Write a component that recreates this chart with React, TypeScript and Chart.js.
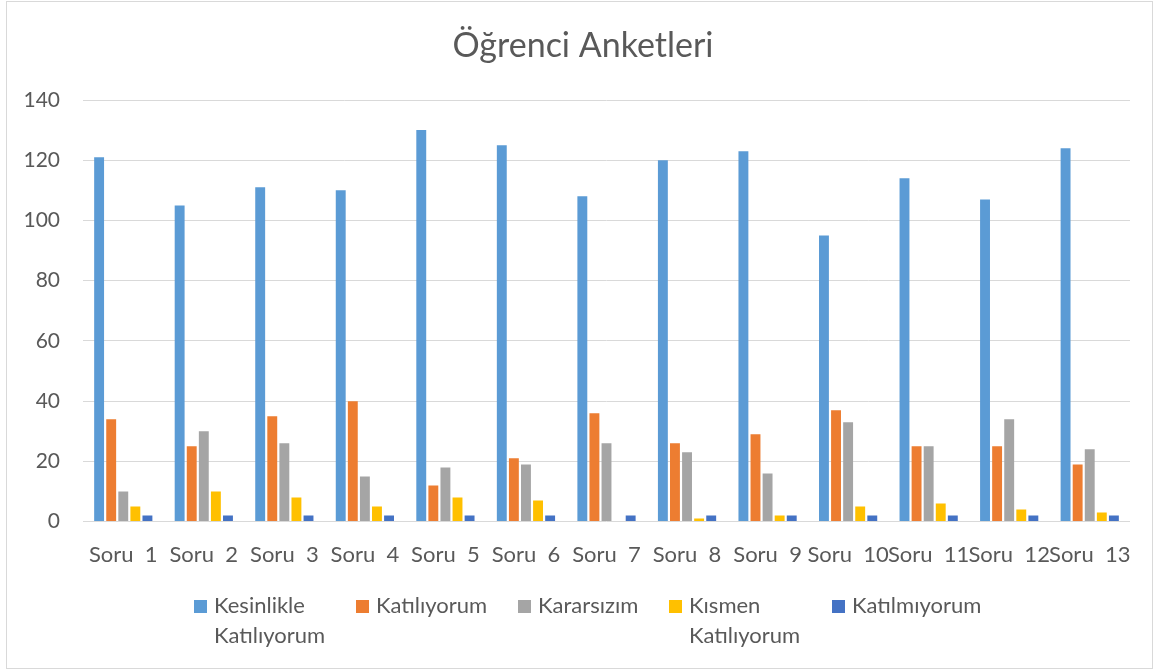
import React, { useEffect, useRef } from "react";
import { Chart, registerables } from "chart.js";

Chart.register(...registerables);

const categories = ["Soru  1", "Soru  2", "Soru  3", "Soru  4", "Soru  5", "Soru  6", "Soru  7", "Soru  8", "Soru  9", "Soru  10", "Soru  11", "Soru  12", "Soru  13"];
const kesinlikleKatiliyorum = [121, 105, 111, 110, 130, 125, 108, 120, 123, 95, 114, 107, 124];
const katiliyorum = [34, 25, 35, 40, 12, 21, 36, 26, 29, 37, 25, 25, 19];
const kararsizim = [10, 30, 26, 15, 18, 19, 26, 23, 16, 33, 25, 34, 24];
const kismenKatiliyorum = [5, 10, 8, 5, 8, 7, 0, 1, 2, 5, 6, 4, 3];
const katilmiyorum = [2, 2, 2, 2, 2, 2, 2, 2, 2, 2, 2, 2, 2];
const seriesNames: string[][] = [["Kesinlikle", "Katılıyorum"], ["Katılıyorum"], ["Kararsızım"], ["Kısmen", "Katılıyorum"], ["Katılmıyorum"]];
const seriesColors = ["#5B9BD5", "#ED7D31", "#A5A5A5", "#FFC000", "#4472C4"];
const yTicks = [0, 20, 40, 60, 80, 100, 120, 140];
const chartTitle = "Öğrenci Anketleri";

const FONT = "Lato, 'Open Sans', sans-serif";
const TEXT = "#595959";

// title and legend layout (Excel-like placement)
const TITLE_X = 583;
const TITLE_Y = 46;
const LEGEND_X = [194, 356, 518, 669, 832];
const LEGEND_BOX_TOP = 600;
const LEGEND_BOX = 13;
const LEGEND_BASELINE = 613;
const LEGEND_LINE = 30;

const decorPlugin = {
  id: "excelDecor",
  afterDraw(chart: any) {
    const ctx = chart.ctx;
    ctx.save();
    ctx.fillStyle = TEXT;
    ctx.font = `34px ${FONT}`;
    ctx.textAlign = "center";
    ctx.textBaseline = "middle";
    ctx.fillText(chartTitle, TITLE_X, TITLE_Y);

    ctx.font = `22px ${FONT}`;
    ctx.textBaseline = "alphabetic";
    ctx.textAlign = "left";
    chart.data.datasets.forEach((d: any, i: number) => {
      const x = LEGEND_X[i];
      ctx.fillStyle = d.backgroundColor;
      ctx.fillRect(x, LEGEND_BOX_TOP, LEGEND_BOX, LEGEND_BOX);
      ctx.fillStyle = TEXT;
      (d.label as string).split("\n").forEach((line: string, j: number) => {
        ctx.fillText(line, x + LEGEND_BOX + 7, LEGEND_BASELINE + j * LEGEND_LINE);
      });
    });
    ctx.restore();
  },
};

export default function App() {
  const ref = useRef<HTMLCanvasElement | null>(null);
  useEffect(() => {
    if (!ref.current) return;
    const values = [kesinlikleKatiliyorum, katiliyorum, kararsizim, kismenKatiliyorum, katilmiyorum];
    const chart = new Chart(ref.current, {
      type: "bar",
      data: {
        labels: categories,
        datasets: values.map((v, i) => ({
          label: seriesNames[i].join("\n"),
          data: v,
          backgroundColor: seriesColors[i],
          borderWidth: 0,
          barPercentage: 0.82,
          categoryPercentage: 0.75,
        })),
      },
      options: {
        responsive: false,
        animation: false,
        layout: { padding: { left: 0, right: 25, top: 100, bottom: 83 } },
        plugins: {
          tooltip: { enabled: false },
          legend: { display: false },
          title: { display: false },
        },
        scales: {
          x: {
            grid: { display: false, drawTicks: false },
            border: { display: false },
            ticks: { color: TEXT, font: { family: FONT, size: 22 }, padding: 20, maxRotation: 0, autoSkip: false },
          },
          y: {
            min: 0,
            max: 140,
            afterFit: (s: any) => { s.width = 83; },
            afterBuildTicks: (s: any) => { s.ticks = yTicks.map((v) => ({ value: v })); },
            grid: { color: "#D9D9D9", lineWidth: 1, drawTicks: false },
            border: { display: false },
            ticks: { color: TEXT, font: { family: FONT, size: 21 }, padding: 23 },
          },
        },
      },
      plugins: [decorPlugin],
    });
    return () => chart.destroy();
  }, []);
  return (
    <div style={{ position: "fixed", left: 0, top: 0, width: 1155, height: 671, background: "#fff" }}>
      <canvas ref={ref} width={1155} height={671} style={{ position: "absolute", left: 0, top: 0 }} />
      <div style={{ position: "absolute", left: 6, top: 1, width: 1145, height: 666, border: "1px solid #D9D9D9", pointerEvents: "none" }} />
    </div>
  );
}
